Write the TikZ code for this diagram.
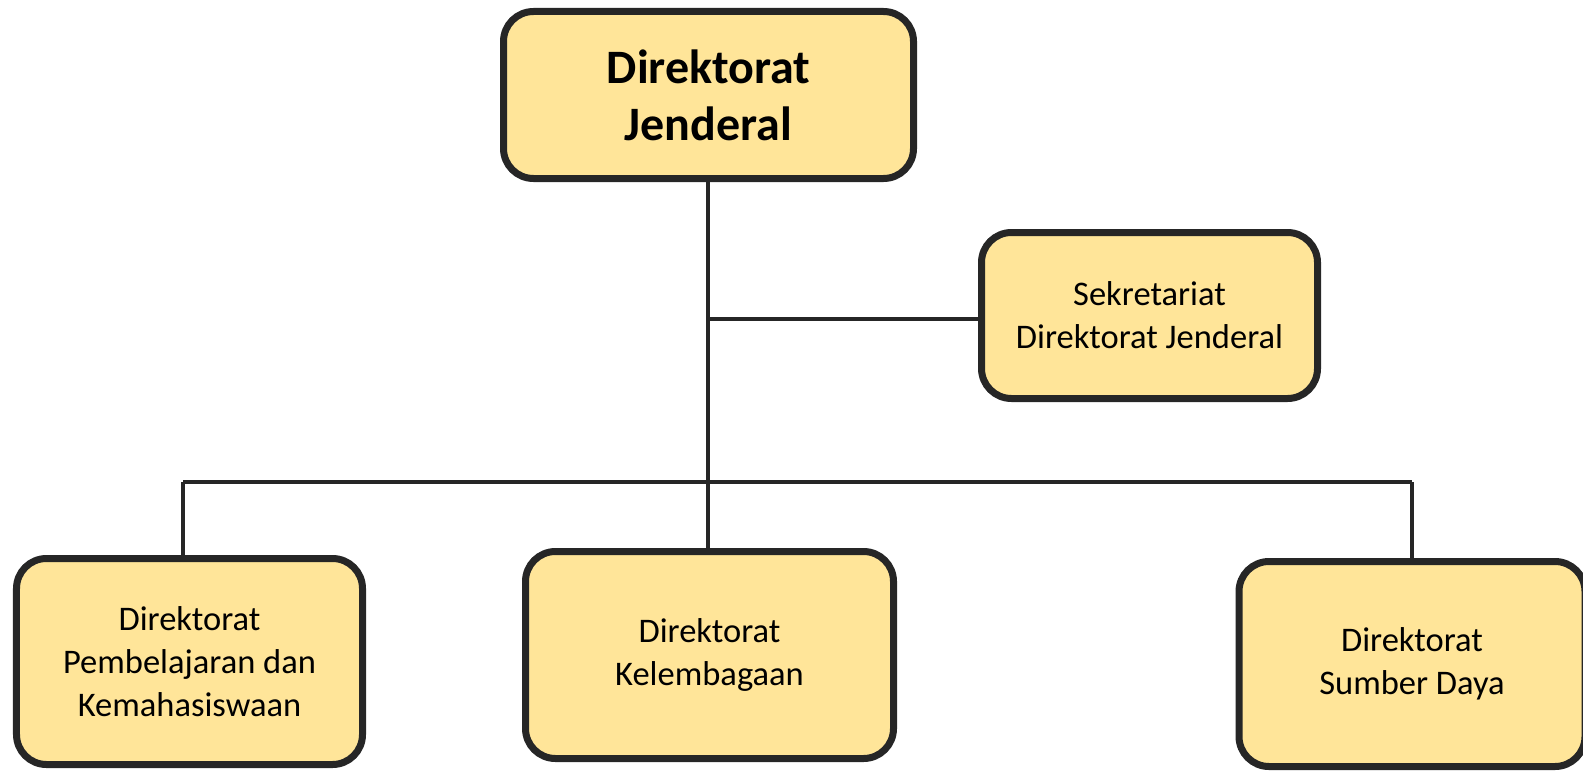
\documentclass[tikz,border=0pt]{standalone}
\usepackage{fontspec}
\setmainfont{Carlito}
\usetikzlibrary{backgrounds}
\definecolor{boxfill}{HTML}{FFE599}
\definecolor{ink}{HTML}{262626}
\begin{document}
\begin{tikzpicture}[x=1bp,y=-1bp,
  unitbox/.style={draw=ink, fill=boxfill, line width=7bp, rounded corners=30bp,
    align=center, inner sep=0pt, text=black,
    font=\fontsize{34.5bp}{43bp}\selectfont},
  headbox/.style={unitbox, font=\fontsize{48bp}{57bp}\selectfont\bfseries},
  link/.style={draw=ink, line width=4bp}]
\useasboundingbox (0,0) rectangle (1583,771);

% units
\node[headbox, minimum width=410bp, minimum height=167bp] (dirjen) at (708.5,95)
  {Direktorat\\Jenderal};
\node[unitbox, minimum width=336bp, minimum height=166bp] (sekre) at (1149.5,315.5)
  {Sekretariat\\Direktorat Jenderal};
\node[unitbox, minimum width=346bp, minimum height=206bp] (pk) at (189.5,661.5)
  {Direktorat\\Pembelajaran dan\\Kemahasiswaan};
\node[unitbox, minimum width=368bp, minimum height=207bp] (kel) at (709.5,655)
  {Direktorat\\Kelembagaan};
\node[unitbox, minimum width=346bp, minimum height=205bp] (sd) at (1412,664)
  {Direktorat\\Sumber Daya};

% junction points
\coordinate (jsek) at (708,319);
\coordinate (busL) at (183,482);
\coordinate (busR) at (1412,482);

% connectors, kept behind the boxes
\begin{scope}[on background layer]
\draw[link] (dirjen.south -| jsek) -- (kel.north -| jsek);
\draw[link] (jsek) -- (jsek -| sekre.west);
\draw[link] (busL) -- (busR);
\draw[link] (busL) -- (busL |- pk.north);
\draw[link] (busR) -- (busR |- sd.north);
\end{scope}
\end{tikzpicture}
\end{document}
